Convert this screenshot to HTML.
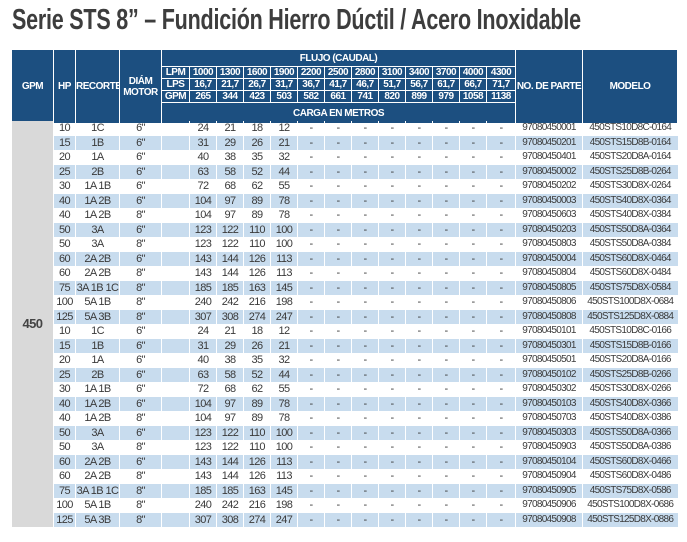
<!DOCTYPE html>
<html><head><meta charset="utf-8"><style>
body{margin:0;width:687px;height:542px;background:#fff;overflow:hidden;font-family:"Liberation Sans",sans-serif;position:relative}
.t{position:absolute;left:12px;top:4px;font-size:29px;font-weight:bold;color:#3d3d3d;white-space:nowrap;transform:scaleX(0.742);transform-origin:0 0;letter-spacing:-0.3px}
table{position:absolute;left:11px;border-collapse:collapse;table-layout:fixed;width:666px}
#h{top:49px}
#h td{background:#1c4f80;color:#fff;border:1px solid #fff;text-align:center;font-size:10px;padding:0;letter-spacing:-0.5px;font-weight:bold;overflow:hidden;white-space:nowrap}
#d{top:121px}
#d td{height:14.5px;padding:0;text-align:center;font-size:11px;color:#3a3a3a;letter-spacing:-0.6px;border-left:1px solid #fff;white-space:nowrap;overflow:hidden;line-height:14px}
#d tr:nth-child(even) td{background:#c8dcee}
#d td.g{background:#d9d9d9 !important;font-size:13px;font-weight:bold;color:#444}
#d td.p{font-size:10px;letter-spacing:-0.7px}
</style></head><body>
<div class="t">Serie STS 8” – Fundición Hierro Dúctil / Acero Inoxidable</div>
<table id="h"><colgroup><col style="width:42px"><col style="width:22px"><col style="width:44px"><col style="width:42px"><col style="width:28px"><col style="width:27px"><col style="width:27px"><col style="width:27px"><col style="width:27px"><col style="width:27px"><col style="width:27px"><col style="width:27px"><col style="width:27px"><col style="width:27px"><col style="width:27px"><col style="width:27px"><col style="width:29px"><col style="width:67px"><col style="width:95px"></colgroup>
<tr style="height:17px"><td rowspan="5">GPM</td><td rowspan="5">HP</td><td rowspan="5">RECORTE</td><td rowspan="5">DIÁM<br>MOTOR</td><td colspan="13">FLUJO (CAUDAL)</td><td rowspan="5">NO. DE PARTE</td><td rowspan="5">MODELO</td></tr>
<tr style="height:12px"><td>LPM</td><td>1000</td><td>1300</td><td>1600</td><td>1900</td><td>2200</td><td>2500</td><td>2800</td><td>3100</td><td>3400</td><td>3700</td><td>4000</td><td>4300</td></tr>
<tr style="height:11px"><td>LPS</td><td>16,7</td><td>21,7</td><td>26,7</td><td>31,7</td><td>36,7</td><td>41,7</td><td>46,7</td><td>51,7</td><td>56,7</td><td>61,7</td><td>66,7</td><td>71,7</td></tr>
<tr style="height:11px"><td>GPM</td><td>265</td><td>344</td><td>423</td><td>503</td><td>582</td><td>661</td><td>741</td><td>820</td><td>899</td><td>979</td><td>1058</td><td>1138</td></tr>
<tr style="height:21px"><td colspan="13">CARGA EN METROS</td></tr>
</table>
<table id="d"><colgroup><col style="width:42px"><col style="width:22px"><col style="width:44px"><col style="width:42px"><col style="width:28px"><col style="width:27px"><col style="width:27px"><col style="width:27px"><col style="width:27px"><col style="width:27px"><col style="width:27px"><col style="width:27px"><col style="width:27px"><col style="width:27px"><col style="width:27px"><col style="width:27px"><col style="width:29px"><col style="width:67px"><col style="width:95px"></colgroup>
<tr><td class="g" rowspan="28">450</td><td>10</td><td>1C</td><td>6"</td><td></td><td>24</td><td>21</td><td>18</td><td>12</td><td>-</td><td>-</td><td>-</td><td>-</td><td>-</td><td>-</td><td>-</td><td>-</td><td class="p">97080450001</td><td class="p">450STS10D8C-0164</td></tr>
<tr><td>15</td><td>1B</td><td>6"</td><td></td><td>31</td><td>29</td><td>26</td><td>21</td><td>-</td><td>-</td><td>-</td><td>-</td><td>-</td><td>-</td><td>-</td><td>-</td><td class="p">97080450201</td><td class="p">450STS15D8B-0164</td></tr>
<tr><td>20</td><td>1A</td><td>6"</td><td></td><td>40</td><td>38</td><td>35</td><td>32</td><td>-</td><td>-</td><td>-</td><td>-</td><td>-</td><td>-</td><td>-</td><td>-</td><td class="p">97080450401</td><td class="p">450STS20D8A-0164</td></tr>
<tr><td>25</td><td>2B</td><td>6"</td><td></td><td>63</td><td>58</td><td>52</td><td>44</td><td>-</td><td>-</td><td>-</td><td>-</td><td>-</td><td>-</td><td>-</td><td>-</td><td class="p">97080450002</td><td class="p">450STS25D8B-0264</td></tr>
<tr><td>30</td><td>1A 1B</td><td>6"</td><td></td><td>72</td><td>68</td><td>62</td><td>55</td><td>-</td><td>-</td><td>-</td><td>-</td><td>-</td><td>-</td><td>-</td><td>-</td><td class="p">97080450202</td><td class="p">450STS30D8X-0264</td></tr>
<tr><td>40</td><td>1A 2B</td><td>6"</td><td></td><td>104</td><td>97</td><td>89</td><td>78</td><td>-</td><td>-</td><td>-</td><td>-</td><td>-</td><td>-</td><td>-</td><td>-</td><td class="p">97080450003</td><td class="p">450STS40D8X-0364</td></tr>
<tr><td>40</td><td>1A 2B</td><td>8"</td><td></td><td>104</td><td>97</td><td>89</td><td>78</td><td>-</td><td>-</td><td>-</td><td>-</td><td>-</td><td>-</td><td>-</td><td>-</td><td class="p">97080450603</td><td class="p">450STS40D8X-0384</td></tr>
<tr><td>50</td><td>3A</td><td>6"</td><td></td><td>123</td><td>122</td><td>110</td><td>100</td><td>-</td><td>-</td><td>-</td><td>-</td><td>-</td><td>-</td><td>-</td><td>-</td><td class="p">97080450203</td><td class="p">450STS50D8A-0364</td></tr>
<tr><td>50</td><td>3A</td><td>8"</td><td></td><td>123</td><td>122</td><td>110</td><td>100</td><td>-</td><td>-</td><td>-</td><td>-</td><td>-</td><td>-</td><td>-</td><td>-</td><td class="p">97080450803</td><td class="p">450STS50D8A-0384</td></tr>
<tr><td>60</td><td>2A 2B</td><td>6"</td><td></td><td>143</td><td>144</td><td>126</td><td>113</td><td>-</td><td>-</td><td>-</td><td>-</td><td>-</td><td>-</td><td>-</td><td>-</td><td class="p">97080450004</td><td class="p">450STS60D8X-0464</td></tr>
<tr><td>60</td><td>2A 2B</td><td>8"</td><td></td><td>143</td><td>144</td><td>126</td><td>113</td><td>-</td><td>-</td><td>-</td><td>-</td><td>-</td><td>-</td><td>-</td><td>-</td><td class="p">97080450804</td><td class="p">450STS60D8X-0484</td></tr>
<tr><td>75</td><td>3A 1B 1C</td><td>8"</td><td></td><td>185</td><td>185</td><td>163</td><td>145</td><td>-</td><td>-</td><td>-</td><td>-</td><td>-</td><td>-</td><td>-</td><td>-</td><td class="p">97080450805</td><td class="p">450STS75D8X-0584</td></tr>
<tr><td>100</td><td>5A 1B</td><td>8"</td><td></td><td>240</td><td>242</td><td>216</td><td>198</td><td>-</td><td>-</td><td>-</td><td>-</td><td>-</td><td>-</td><td>-</td><td>-</td><td class="p">97080450806</td><td class="p">450STS100D8X-0684</td></tr>
<tr><td>125</td><td>5A 3B</td><td>8"</td><td></td><td>307</td><td>308</td><td>274</td><td>247</td><td>-</td><td>-</td><td>-</td><td>-</td><td>-</td><td>-</td><td>-</td><td>-</td><td class="p">97080450808</td><td class="p">450STS125D8X-0884</td></tr>
<tr><td>10</td><td>1C</td><td>6"</td><td></td><td>24</td><td>21</td><td>18</td><td>12</td><td>-</td><td>-</td><td>-</td><td>-</td><td>-</td><td>-</td><td>-</td><td>-</td><td class="p">97080450101</td><td class="p">450STS10D8C-0166</td></tr>
<tr><td>15</td><td>1B</td><td>6"</td><td></td><td>31</td><td>29</td><td>26</td><td>21</td><td>-</td><td>-</td><td>-</td><td>-</td><td>-</td><td>-</td><td>-</td><td>-</td><td class="p">97080450301</td><td class="p">450STS15D8B-0166</td></tr>
<tr><td>20</td><td>1A</td><td>6"</td><td></td><td>40</td><td>38</td><td>35</td><td>32</td><td>-</td><td>-</td><td>-</td><td>-</td><td>-</td><td>-</td><td>-</td><td>-</td><td class="p">97080450501</td><td class="p">450STS20D8A-0166</td></tr>
<tr><td>25</td><td>2B</td><td>6"</td><td></td><td>63</td><td>58</td><td>52</td><td>44</td><td>-</td><td>-</td><td>-</td><td>-</td><td>-</td><td>-</td><td>-</td><td>-</td><td class="p">97080450102</td><td class="p">450STS25D8B-0266</td></tr>
<tr><td>30</td><td>1A 1B</td><td>6"</td><td></td><td>72</td><td>68</td><td>62</td><td>55</td><td>-</td><td>-</td><td>-</td><td>-</td><td>-</td><td>-</td><td>-</td><td>-</td><td class="p">97080450302</td><td class="p">450STS30D8X-0266</td></tr>
<tr><td>40</td><td>1A 2B</td><td>6"</td><td></td><td>104</td><td>97</td><td>89</td><td>78</td><td>-</td><td>-</td><td>-</td><td>-</td><td>-</td><td>-</td><td>-</td><td>-</td><td class="p">97080450103</td><td class="p">450STS40D8X-0366</td></tr>
<tr><td>40</td><td>1A 2B</td><td>8"</td><td></td><td>104</td><td>97</td><td>89</td><td>78</td><td>-</td><td>-</td><td>-</td><td>-</td><td>-</td><td>-</td><td>-</td><td>-</td><td class="p">97080450703</td><td class="p">450STS40D8X-0386</td></tr>
<tr><td>50</td><td>3A</td><td>6"</td><td></td><td>123</td><td>122</td><td>110</td><td>100</td><td>-</td><td>-</td><td>-</td><td>-</td><td>-</td><td>-</td><td>-</td><td>-</td><td class="p">97080450303</td><td class="p">450STS50D8A-0366</td></tr>
<tr><td>50</td><td>3A</td><td>8"</td><td></td><td>123</td><td>122</td><td>110</td><td>100</td><td>-</td><td>-</td><td>-</td><td>-</td><td>-</td><td>-</td><td>-</td><td>-</td><td class="p">97080450903</td><td class="p">450STS50D8A-0386</td></tr>
<tr><td>60</td><td>2A 2B</td><td>6"</td><td></td><td>143</td><td>144</td><td>126</td><td>113</td><td>-</td><td>-</td><td>-</td><td>-</td><td>-</td><td>-</td><td>-</td><td>-</td><td class="p">97080450104</td><td class="p">450STS60D8X-0466</td></tr>
<tr><td>60</td><td>2A 2B</td><td>8"</td><td></td><td>143</td><td>144</td><td>126</td><td>113</td><td>-</td><td>-</td><td>-</td><td>-</td><td>-</td><td>-</td><td>-</td><td>-</td><td class="p">97080450904</td><td class="p">450STS60D8X-0486</td></tr>
<tr><td>75</td><td>3A 1B 1C</td><td>8"</td><td></td><td>185</td><td>185</td><td>163</td><td>145</td><td>-</td><td>-</td><td>-</td><td>-</td><td>-</td><td>-</td><td>-</td><td>-</td><td class="p">97080450905</td><td class="p">450STS75D8X-0586</td></tr>
<tr><td>100</td><td>5A 1B</td><td>8"</td><td></td><td>240</td><td>242</td><td>216</td><td>198</td><td>-</td><td>-</td><td>-</td><td>-</td><td>-</td><td>-</td><td>-</td><td>-</td><td class="p">97080450906</td><td class="p">450STS100D8X-0686</td></tr>
<tr><td>125</td><td>5A 3B</td><td>8"</td><td></td><td>307</td><td>308</td><td>274</td><td>247</td><td>-</td><td>-</td><td>-</td><td>-</td><td>-</td><td>-</td><td>-</td><td>-</td><td class="p">97080450908</td><td class="p">450STS125D8X-0886</td></tr>
</table>
</body></html>
